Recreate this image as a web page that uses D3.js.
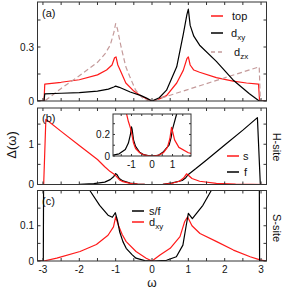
<!DOCTYPE html>
<html lang="en">
<head>
<meta charset="utf-8">
<title>Delta(omega) panels</title>
<script src="https://d3js.org/d3.v7.min.js"></script>
<style>
  html, body { margin:0; padding:0; background:#fff; }
  svg text { font-family: "Liberation Sans", Arial, sans-serif; fill:#111; }
</style>
</head>
<body>
<svg id="chart" width="284" height="289"></svg>
<script>
// ---- data (omega, Delta) ----
const xTickLabels = [-3, -2, -1, 0, 1, 2, 3];

// panel (a)
const aTop = [[-3.15,0],[-2.97,0],[-2.95,0.094],[-2.5,0.104],[-2,0.118],[-1.5,0.145],[-1.25,0.172],[-1.1,0.2],[-1.03,0.24],[-0.99,0.245],[-0.94,0.2],[-0.85,0.16],[-0.72,0.1],[-0.5,0.055],[-0.3,0.028],[-0.15,0.012],[0,0],[0.2,0.012],[0.4,0.03],[0.68,0.1],[0.86,0.17],[0.96,0.235],[1.0,0.245],[1.05,0.2],[1.15,0.172],[1.31,0.16],[1.77,0.13],[2.23,0.11],[2.6,0.1],[2.93,0.094],[2.96,0],[3.15,0]];
const aDxy = [[-3.15,0],[-2.97,0],[-2.95,0.04],[-2.5,0.043],[-2,0.047],[-1.5,0.055],[-1.2,0.066],[-1.05,0.078],[-1.0,0.083],[-0.9,0.076],[-0.6,0.05],[-0.3,0.03],[-0.15,0.016],[0,0],[0.2,0.018],[0.4,0.06],[0.68,0.19],[0.86,0.37],[0.96,0.48],[1.0,0.51],[1.05,0.42],[1.15,0.36],[1.31,0.31],[1.77,0.22],[2.23,0.117],[2.68,0.04],[2.95,0],[3.15,0]];
const aDzx = [[-3.15,0],[-2.95,0],[-2.5,0.07],[-2,0.14],[-1.5,0.215],[-1.3,0.26],[-1.15,0.31],[-1.05,0.38],[-1.0,0.43],[-0.95,0.4],[-0.85,0.3],[-0.72,0.19],[-0.6,0.13],[-0.45,0.06],[-0.25,0.015],[-0.1,0.002],[0,0],[2.95,0.19],[2.98,0],[3.15,0]];

// panel (b), H-site
const bS = [[-3.15,0],[-2.98,0],[-2.92,1.62],[-2.5,1.32],[-2,0.97],[-1.5,0.62],[-1.3,0.44],[-1.15,0.32],[-1.05,0.26],[-1.0,0.22],[-0.95,0.17],[-0.9,0.12],[-0.8,0.07],[-0.6,0.03],[-0.4,0.01],[-0.2,0.003],[0,0],[0.3,0.005],[0.55,0.03],[0.75,0.08],[0.87,0.16],[0.95,0.265],[1.0,0.23],[1.1,0.15],[1.31,0.08],[1.77,0.03],[2.3,0.01],[3.15,0]];
const bF = [[-3.15,0],[-2,0.005],[-1.6,0.02],[-1.3,0.06],[-1.15,0.12],[-1.05,0.2],[-1.0,0.27],[-0.97,0.25],[-0.9,0.15],[-0.8,0.09],[-0.6,0.035],[-0.4,0.012],[-0.2,0.003],[0,0],[0.3,0.005],[0.56,0.04],[0.83,0.1],[0.93,0.17],[1.0,0.25],[1.2,0.39],[1.5,0.61],[2,0.98],[2.5,1.35],[2.9,1.66],[2.98,0],[3.15,0]];

// panel (c), S-site
const cSf = [[-3.15,0],[-2.99,0],[-2.97,0.6],[-2.5,0.45],[-2,0.3],[-1.71,0.2],[-1.44,0.158],[-1.21,0.13],[-1.09,0.124],[-1.01,0.137],[-0.95,0.115],[-0.89,0.083],[-0.8,0.055],[-0.71,0.036],[-0.55,0.018],[-0.44,0.008],[-0.2,0.001],[0,0],[0.4,0.002],[0.67,0.012],[0.85,0.045],[0.94,0.1],[1.0,0.135],[1.11,0.12],[1.4,0.158],[1.63,0.2],[2,0.3],[2.5,0.45],[2.94,0.6],[2.96,0],[3.15,0]];
const cDxy = [[-3.15,0],[-2.98,0],[-2.62,0.008],[-1.98,0.027],[-1.53,0.047],[-1.21,0.073],[-1.06,0.097],[-1.0,0.125],[-0.92,0.1],[-0.82,0.075],[-0.71,0.055],[-0.44,0.027],[-0.16,0.008],[0,0],[0.22,0.017],[0.5,0.036],[0.77,0.069],[0.9,0.112],[0.98,0.125],[1.1,0.1],[1.32,0.078],[1.78,0.055],[2.24,0.031],[2.7,0.012],[2.97,0.003],[3.15,0]];

const RED = "#ff1a1a", DASH = "#c49a9a";

const svg = d3.select("#chart");
const x = d3.scaleLinear().domain([-3.15, 3.15]).range([37.5, 266.5]);
const xMinor = d3.range(-3, 3.01, 0.5);
const line = (xs, ys) => d3.line().x(d => xs(d[0])).y(d => ys(d[1]));

const panels = [
  { key:"a", top:2, bottom:101, ymax:0.55, yTicks:[0,0.15,0.3,0.45], yLabels:[0,0.3],
    series:[ {d:aTop, c:RED}, {d:aDzx, c:DASH, dash:"5,3"}, {d:aDxy, c:"#000"} ] },
  { key:"b", top:108, bottom:184.5, ymax:1.9, yTicks:[0,0.5,1,1.5], yLabels:[0,1],
    series:[ {d:bF, c:"#000"}, {d:bS, c:RED} ] },
  { key:"c", top:190.5, bottom:261, ymax:0.2, yTicks:[0,0.05,0.1,0.15], yLabels:[0,0.1],
    series:[ {d:cDxy, c:RED}, {d:cSf, c:"#000"} ] }
];

function frame(g, xs, ys, xt, yt, len) {
  const [x0, x1] = xs.range(), [y0, y1] = ys.range();
  xt.forEach(t => {
    g.append("line").attr("x1", xs(t)).attr("x2", xs(t)).attr("y1", y0).attr("y2", y0 - len).attr("stroke", "#333");
    g.append("line").attr("x1", xs(t)).attr("x2", xs(t)).attr("y1", y1).attr("y2", y1 + len).attr("stroke", "#333");
  });
  yt.forEach(t => {
    g.append("line").attr("x1", x0).attr("x2", x0 + len).attr("y1", ys(t)).attr("y2", ys(t)).attr("stroke", "#333");
    g.append("line").attr("x1", x1).attr("x2", x1 - len).attr("y1", ys(t)).attr("y2", ys(t)).attr("stroke", "#333");
  });
  g.append("rect").attr("x", x0).attr("y", y1).attr("width", x1 - x0).attr("height", y0 - y1)
    .attr("fill", "none").attr("stroke", "#333").attr("stroke-width", 1);
}

panels.forEach(p => {
  const y = d3.scaleLinear().domain([0, p.ymax]).range([p.bottom, p.top]);
  const g = svg.append("g");
  g.append("clipPath").attr("id", "clip-" + p.key).append("rect")
    .attr("x", 37.5).attr("y", p.top).attr("width", 229).attr("height", p.bottom - p.top);
  const curves = g.append("g").attr("clip-path", `url(#clip-${p.key})`);
  p.series.forEach(s => {
    curves.append("path").datum(s.d).attr("d", line(x, y))
      .attr("fill", "none").attr("stroke", s.c).attr("stroke-width", 1.2)
      .attr("stroke-dasharray", s.dash || null).attr("stroke-linejoin", "round");
  });
  frame(g, x, y, xMinor, p.yTicks, 3);
  p.yLabels.forEach(t => {
    g.append("text").attr("x", 34).attr("y", y(t)).attr("dy", "0.35em")
      .attr("text-anchor", "end").attr("font-size", 10).text(t);
  });
  g.append("text").attr("x", 42).attr("y", p.top + (p.key === "a" ? 15 : 14))
    .attr("font-size", 11).text(`(${p.key})`);
});

// x tick labels under panel (c)
xTickLabels.forEach(t => {
  svg.append("text").attr("x", x(t)).attr("y", 273).attr("text-anchor", "middle")
    .attr("font-size", 10).text(t);
});
svg.append("text").attr("x", x(0)).attr("y", 287).attr("text-anchor", "middle")
  .attr("font-size", 12).attr("font-family", "Liberation Serif, serif").text("ω");

// axis titles
svg.append("text").attr("transform", "translate(16,145) rotate(-90)").attr("text-anchor", "middle")
  .attr("font-size", 13).text("Δ(ω)");
svg.append("text").attr("transform", "translate(273,147) rotate(90)").attr("text-anchor", "middle")
  .attr("font-size", 11).text("H-site");
svg.append("text").attr("transform", "translate(273,228) rotate(90)").attr("text-anchor", "middle")
  .attr("font-size", 11).text("S-site");

// legends
function legendItem(lx, ly, color, dash, label, sub, tx) {
  svg.append("line").attr("x1", lx).attr("x2", lx + 12).attr("y1", ly).attr("y2", ly)
    .attr("stroke", color).attr("stroke-width", 1.5).attr("stroke-dasharray", dash || null);
  const t = svg.append("text").attr("x", tx).attr("y", ly + 4).attr("font-size", 11).text(label);
  if (sub) t.append("tspan").attr("font-size", 8).attr("dy", 3).text(sub);
}
legendItem(211, 16, RED, null, "top", null, 232);
legendItem(211, 33, "#000", null, "d", "xy", 231);
legendItem(211, 52, DASH, "4,3", "d", "zx", 234);
legendItem(227, 156, RED, null, "s", null, 243);
legendItem(227, 172, "#000", null, "f", null, 244);
legendItem(132, 211, "#000", null, "s/f", null, 149);
legendItem(132, 222, RED, null, "d", "xy", 149);

// inset in panel (b)
const ix = d3.scaleLinear().domain([-1.9, 1.9]).range([113, 191]);
const iy = d3.scaleLinear().domain([0, 0.39]).range([156, 114]);
const ig = svg.append("g");
ig.append("rect").attr("x", 113).attr("y", 114).attr("width", 78).attr("height", 42).attr("fill", "#fff");
ig.append("clipPath").attr("id", "clip-inset").append("rect")
  .attr("x", 113).attr("y", 114).attr("width", 78).attr("height", 42);
const ic = ig.append("g").attr("clip-path", "url(#clip-inset)");
[{d:bF, c:"#000"}, {d:bS, c:RED}].forEach(s => {
  ic.append("path").datum(s.d).attr("d", line(ix, iy))
    .attr("fill", "none").attr("stroke", s.c).attr("stroke-width", 1.2).attr("stroke-linejoin", "round");
});
frame(ig, ix, iy, [-1.5,-1,-0.5,0,0.5,1,1.5], [0,0.1,0.2,0.3], 2);
[0, 0.2].forEach(t => {
  ig.append("text").attr("x", 110).attr("y", iy(t)).attr("dy", "0.35em")
    .attr("text-anchor", "end").attr("font-size", 10).text(t);
});
[-1, 0, 1].forEach(t => {
  ig.append("text").attr("x", ix(t)).attr("y", 168).attr("text-anchor", "middle")
    .attr("font-size", 10).text(t);
});
</script>
</body>
</html>
